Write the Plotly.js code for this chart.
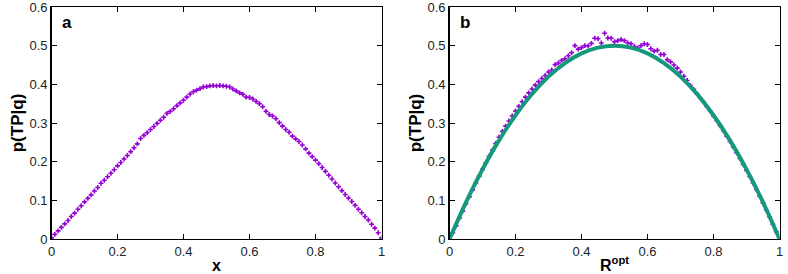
<!DOCTYPE html>
<html>
<head>
<meta charset="utf-8">
<script src="https://cdn.plot.ly/plotly-3.0.1.min.js"></script>
<style>html,body{margin:0;padding:0;background:#fff;}#chart{width:788px;height:274px;}</style>
</head>
<body>
<div id="chart"></div>
<script>
// x positions shared by both panels (step 0.01)
const xGrid = [0,0.01,0.02,0.03,0.04,0.05,0.06,0.07,0.08,0.09,0.1,0.11,0.12,0.13,0.14,0.15,0.16,0.17,0.18,0.19,0.2,0.21,0.22,0.23,0.24,0.25,0.26,0.27,0.28,0.29,0.3,0.31,0.32,0.33,0.34,0.35,0.36,0.37,0.38,0.39,0.4,0.41,0.42,0.43,0.44,0.45,0.46,0.47,0.48,0.49,0.5,0.51,0.52,0.53,0.54,0.55,0.56,0.57,0.58,0.59,0.6,0.61,0.62,0.63,0.64,0.65,0.66,0.67,0.68,0.69,0.7,0.71,0.72,0.73,0.74,0.75,0.76,0.77,0.78,0.79,0.8,0.81,0.82,0.83,0.84,0.85,0.86,0.87,0.88,0.89,0.9,0.91,0.92,0.93,0.94,0.95,0.96,0.97,0.98,0.99,1];

// panel a: p(TP|q) vs x
const pA = [0.003,0.012,0.021,0.030,0.039,0.048,0.058,0.067,0.077,0.086,0.096,0.105,0.114,0.124,0.133,0.144,0.152,0.161,0.170,0.179,0.189,0.198,0.207,0.216,0.226,0.236,0.246,0.260,0.268,0.275,0.283,0.291,0.299,0.307,0.315,0.325,0.330,0.337,0.345,0.352,0.359,0.367,0.375,0.381,0.385,0.389,0.393,0.394,0.396,0.397,0.396,0.397,0.396,0.395,0.393,0.388,0.383,0.378,0.374,0.367,0.366,0.362,0.356,0.350,0.342,0.330,0.322,0.318,0.311,0.301,0.292,0.283,0.276,0.266,0.259,0.252,0.243,0.233,0.222,0.213,0.204,0.195,0.185,0.175,0.165,0.155,0.145,0.135,0.125,0.115,0.106,0.097,0.087,0.077,0.068,0.058,0.049,0.038,0.028,0.016,0.003];

// panel b: p(TP|q) vs R_opt
const pB = [0.002,0.016,0.034,0.054,0.072,0.091,0.109,0.127,0.145,0.162,0.180,0.197,0.214,0.230,0.247,0.263,0.278,0.292,0.305,0.318,0.331,0.343,0.355,0.367,0.378,0.388,0.398,0.407,0.415,0.423,0.432,0.437,0.451,0.455,0.462,0.466,0.474,0.482,0.500,0.491,0.495,0.500,0.499,0.506,0.519,0.518,0.507,0.532,0.520,0.519,0.510,0.513,0.516,0.513,0.507,0.505,0.498,0.494,0.500,0.505,0.503,0.492,0.486,0.488,0.477,0.477,0.464,0.458,0.450,0.442,0.432,0.421,0.410,0.397,0.387,0.376,0.364,0.354,0.342,0.331,0.318,0.306,0.293,0.280,0.266,0.252,0.238,0.223,0.208,0.193,0.177,0.161,0.145,0.128,0.111,0.093,0.075,0.057,0.038,0.019,0.002];

// panel b: theoretical curve
const curveX = [0,0.05,0.1,0.15,0.2,0.25,0.3,0.35,0.4,0.45,0.5,0.55,0.6,0.65,0.7,0.75,0.8,0.85,0.9,0.95,1];
const curveY = [0,0.095,0.18,0.255,0.32,0.375,0.42,0.455,0.48,0.495,0.5,0.495,0.48,0.455,0.42,0.375,0.32,0.255,0.18,0.095,0];

const xTicks = [0,0.2,0.4,0.6,0.8,1];
const xTickText = ['0','0.2','0.4','0.6','0.8','1'];
const yTicks = [0,0.1,0.2,0.3,0.4,0.5,0.6];
const yTickText = ['0','0.1','0.2','0.3','0.4','0.5','0.6'];

const purple = '#9400d3';
const green = '#139a7c';
const font = 'Liberation Sans, Arial, sans-serif';

const mk = {symbol:'cross-thin', size:3.5, color:purple, line:{width:1.6, color:purple}};

const traces = [
  {x:xGrid, y:pA, type:'scatter', mode:'markers', marker:mk, xaxis:'x', yaxis:'y', showlegend:false, hoverinfo:'skip'},
  {x:xGrid, y:pB, type:'scatter', mode:'markers', marker:mk, xaxis:'x2', yaxis:'y2', showlegend:false, hoverinfo:'skip'},
  {x:curveX, y:curveY, type:'scatter', mode:'lines', line:{color:green, width:4, shape:'spline', smoothing:1}, xaxis:'x2', yaxis:'y2', showlegend:false, hoverinfo:'skip'}
];

function xax(domain, title, anchor) {
  return {domain:domain, range:[0,1], anchor:anchor, tickvals:xTicks, ticktext:xTickText,
    ticks:'inside', ticklen:5, tickwidth:1, tickcolor:'#000', mirror:'ticks', showline:true,
    linecolor:'#000', linewidth:1.3, showgrid:false, zeroline:false, automargin:false,
    ticklabeloverflow:'allow',
    tickfont:{family:font, size:13, color:'#222'},
    title:{text:title, font:{family:font, size:16, color:'#000'}, standoff:2}};
}
function yax(domain, anchor) {
  return {domain:domain, range:[0,0.6], anchor:anchor, tickvals:yTicks, ticktext:yTickText,
    ticks:'inside', ticklen:5, tickwidth:1, tickcolor:'#000', mirror:'ticks', showline:true,
    linecolor:'#000', linewidth:1.3, showgrid:false, zeroline:false, automargin:false,
    ticklabeloverflow:'allow',
    tickfont:{family:font, size:13, color:'#222'},
    title:{text:'<b>p(TP|q)</b>', font:{family:font, size:17, color:'#000'}, standoff:1}};
}

const yDom = [35/274, 267/274];
const layout = {
  width:788, height:274,
  margin:{l:0, r:0, t:0, b:0},
  paper_bgcolor:'#fff', plot_bgcolor:'#fff',
  xaxis: xax([51.5/788, 381.5/788], '<b>x</b>', 'y'),
  yaxis: yax(yDom, 'x'),
  xaxis2: xax([449.5/788, 779.5/788], '<b>R<sup>opt</sup></b>', 'y2'),
  yaxis2: yax(yDom, 'x2'),
  annotations: [
    {text:'<b>a</b>', xref:'paper', yref:'paper', x:60/788, y:(274-22)/274, xanchor:'left', yanchor:'middle', showarrow:false, font:{family:font, size:17, color:'#000'}},
    {text:'<b>b</b>', xref:'paper', yref:'paper', x:458/788, y:(274-22)/274, xanchor:'left', yanchor:'middle', showarrow:false, font:{family:font, size:17, color:'#000'}}
  ]
};

Plotly.newPlot('chart', traces, layout, {staticPlot:true, displayModeBar:false});
</script>
</body>
</html>
